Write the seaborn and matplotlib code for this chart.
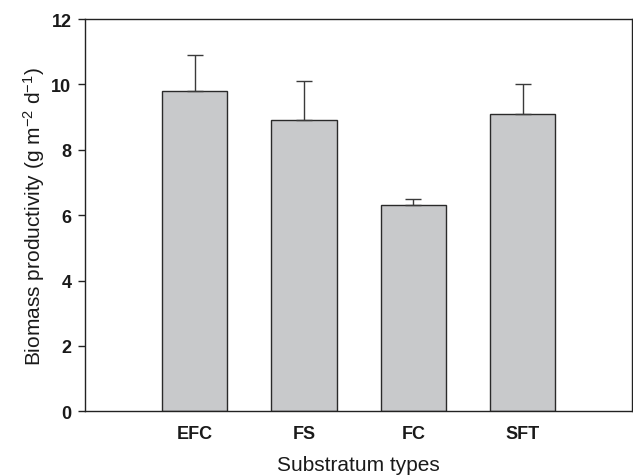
import matplotlib
matplotlib.use("Agg")
import matplotlib.pyplot as plt
import seaborn as sns
import pandas as pd

# data
substrata = ["EFC", "FS", "FC", "SFT"]
productivity = [9.8, 8.9, 6.3, 9.1]
errors = [1.1, 1.2, 0.2, 0.9]

sns.set_theme(style="ticks")
plt.rcParams['font.family'] = ['Liberation Sans', 'DejaVu Sans']
plt.rcParams['mathtext.fontset'] = 'custom'
plt.rcParams['mathtext.rm'] = 'Liberation Sans'
plt.rcParams['mathtext.it'] = 'Liberation Sans'

df = pd.DataFrame({"Substratum": substrata, "Productivity": productivity})

fig = plt.figure(figsize=(6.33, 4.77), dpi=100)
ax = fig.add_axes([0.1348, 0.1356, 0.8636, 0.8224])

sns.barplot(data=df, x="Substratum", y="Productivity", ax=ax,
            color="#c8c9cb", width=0.6, edgecolor="#2a2a2a", linewidth=1.0,
            saturation=1)

# upper error bars only
ax.errorbar(range(len(substrata)), productivity,
            yerr=[[0] * len(errors), errors], fmt="none",
            ecolor="#3a3a3a", elinewidth=1.0, capsize=6, capthick=1.0)

ax.set_xlim(-1, 4)
ax.set_ylim(0, 12)
ax.set_yticks([0, 2, 4, 6, 8, 10, 12])

for side in ["top", "right", "left", "bottom"]:
    ax.spines[side].set_visible(True)
    ax.spines[side].set_color("#222222")
    ax.spines[side].set_linewidth(1.0)

ax.tick_params(axis="y", direction="out", length=5, width=1, color="#222222",
               labelsize=13, pad=5)
ax.tick_params(axis="x", length=0, labelsize=13, pad=10)
for lbl in ax.get_xticklabels() + ax.get_yticklabels():
    lbl.set_fontweight("bold")
    lbl.set_color("#1a1a1a")

ax.set_xlabel("Substratum types", fontsize=15, labelpad=9, color="#1a1a1a")
ax.set_ylabel("Biomass productivity (g m$^{-2}$ d$^{-1}$)", fontsize=15,
              labelpad=3, color="#1a1a1a")

fig.savefig("out.png", dpi=100)
